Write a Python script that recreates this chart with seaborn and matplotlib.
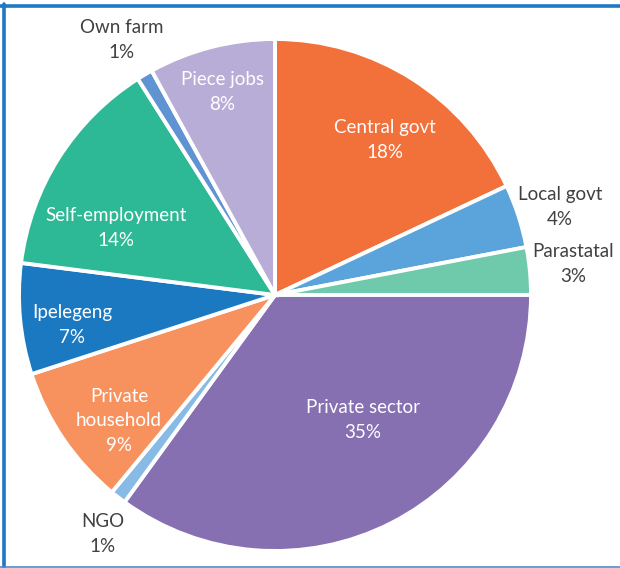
import matplotlib
matplotlib.use("Agg")
import matplotlib.pyplot as plt
from matplotlib.lines import Line2D
import seaborn as sns

sns.set_theme(style="white")
plt.rcParams["font.family"] = ["Lato", "DejaVu Sans"]

# Employment by sector, share of employed persons (%)
sectors = ["Central govt", "Local govt", "Parastatal", "Private sector", "NGO",
           "Private household", "Ipelegeng", "Self-employment", "Own farm", "Piece jobs"]
shares = [18, 4, 3, 35, 1, 9, 7, 14, 1, 8]
label_text = ["Central govt", "Local govt", "Parastatal", "Private sector", "NGO",
              "Private\nhousehold", "Ipelegeng", "Self-employment", "Own farm", "Piece jobs"]

colors = ["#F2703A", "#5BA4DB", "#6FC9AB", "#8670B2", "#87BAE4",
          "#F7925F", "#1B79C2", "#2EB996", "#5F93D1", "#B8ADD6"]

# label anchor points (data coords, pie radius = 1) and text colours
label_xy = [(0.43, 0.605), (1.113, 0.344), (1.164, 0.121), (0.344, -0.488),
            (-0.672, -0.934), (-0.609, -0.492), (-0.793, -0.117), (-0.621, 0.262),
            (-0.598, 0.996), (-0.207, 0.793)]
inside = [True, False, False, True, False, True, True, True, False, True]

W, H = 620, 568
fig = plt.figure(figsize=(W / 100, H / 100), dpi=100)
fig.patch.set_facecolor("white")

cx, cy, R = 275, 295, 256
ax = fig.add_axes([(cx - R) / W, (H - cy - R) / H, 2 * R / W, 2 * R / H])
ax.pie(shares, colors=colors, startangle=90, counterclock=False, radius=1,
       wedgeprops=dict(edgecolor="white", linewidth=2.8))
ax.set_xlim(-1, 1)
ax.set_ylim(-1, 1)
ax.set_aspect("equal")
ax.axis("off")

for txt, val, (x, y), ins in zip(label_text, shares, label_xy, inside):
    ax.text(x, y, f"{txt}\n{val}%", ha="center", va="center",
            color="white" if ins else "#404040", fontsize=13.5,
            linespacing=1.55, clip_on=False)

# frame around the figure
blue = "#1F78C4"
fig.add_artist(Line2D([0, 1], [1 - 5.5 / H, 1 - 5.5 / H], color=blue, lw=2.6,
                      transform=fig.transFigure))
fig.add_artist(Line2D([3.8 / W, 3.8 / W], [1.0 / H, 1 - 4 / H], color=blue, lw=2.6,
                      transform=fig.transFigure))
fig.add_artist(Line2D([0, 1], [1.2 / H, 1.2 / H], color="#4A90C8", lw=1.2,
                      transform=fig.transFigure))

fig.savefig("out.png", dpi=100, facecolor="white")
